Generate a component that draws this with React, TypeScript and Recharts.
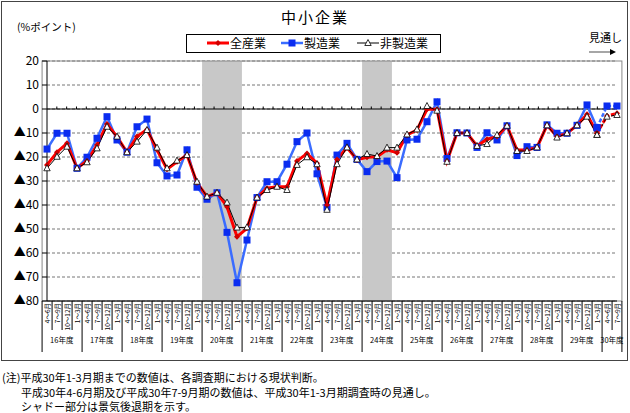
import { LineChart, Line, XAxis, YAxis, CartesianGrid, ReferenceArea, ReferenceLine } from "recharts";

const FONT = '"Noto Sans CJK JP", "Noto Sans", sans-serif';

const YEARS = ["16年度", "17年度", "18年度", "19年度", "20年度", "21年度", "22年度", "23年度", "24年度", "25年度", "26年度", "27年度", "28年度", "29年度", "30年度"];
const QUARTERS = ["4～6月", "7～9月", "10～12月", "1～3月"];
const LAST_YEAR_QUARTERS = 2;
// last quarter that is an actual reading; later points are the outlook (見通し)
const LAST_ACTUAL = 55;

// 全産業
const ZEN = [
	-23.3, -18, -14.3, -24.7, -21.7, -15, -6.3, -11.5, -18, -11.5, -8.5, -17,
	-25.1, -22, -19.2, -30.7, -36.5, -34.9, -40.7, -53.2, -49.7, -36.9, -33, -32.4,
	-32.4, -21.7, -18.5, -22.6, -40, -21, -16.1, -21.2, -20.1, -19.9, -17, -18.2,
	-10.8, -8.75, -0.1, -0.1, -21.7, -10, -10, -15.4, -12.6, -11.5, -7, -17.1,
	-17.1, -16, -6.8, -11.5, -10.1, -6.8, -2.2, -10.1, -2.9, -1.8,
];
// 製造業
const SEI = [
	-16.7, -10.1, -10.1, -24.7, -20.1, -12.2, -3.2, -12.9, -18, -7.4, -4.2, -22.4,
	-27.9, -27.5, -17, -32.6, -37.6, -34.9, -51.4, -72.4, -54.6, -36.9, -30.3, -30.3,
	-23, -13.6, -10, -27, -41, -19.2, -14.3, -21, -26.1, -21.9, -21.7, -28.6,
	-12.9, -12.6, -5.3, 3, -20.6, -9.9, -10, -16, -9.9, -12.9, -7, -19.4,
	-15.7, -16, -6.6, -10.1, -10.1, -6.8, 1.7, -7.8, 1.25, 1.25,
];
// 非製造業
const HI = [
	-24.7, -19.9, -15.7, -24.7, -22.2, -16.4, -7.4, -11.5, -18, -13.6, -8.75, -16.1,
	-24.7, -21.5, -19.2, -30.3, -36.5, -34.9, -39, -49.4, -49.3, -36.9, -33.75, -32.4,
	-33.75, -23.3, -20.1, -23, -42, -23, -16, -21, -18.75, -19.6, -16.1, -16.1,
	-10.6, -8.5, 1.25, -0.7, -22, -10, -10, -15.4, -14.6, -10.8, -7, -17.5,
	-17.5, -16, -6.8, -11.9, -10.1, -6.8, -3.2, -10.8, -3.2, -2.5,
];

const Y_TICKS = [20, 10, 0, -10, -20, -30, -40, -50, -60, -70, -80];
// shaded recession periods: [from, to]
const RECESSIONS = [
	["20年度 4～6月", "20年度 1～3月"],
	["24年度 4～6月", "24年度 10～12月"],
];

const CATS = YEARS.flatMap((year, yi) =>
	QUARTERS.slice(0, yi === YEARS.length - 1 ? LAST_YEAR_QUARTERS : 4).map((q, qi) => ({
		year,
		q,
		qi,
		n: yi === YEARS.length - 1 ? LAST_YEAR_QUARTERS : 4,
	})),
);

const data = CATS.map((c, i) => ({
	key: `${c.year} ${c.q}`,
	zen: i <= LAST_ACTUAL ? ZEN[i] : null,
	sei: i <= LAST_ACTUAL ? SEI[i] : null,
	hi: i <= LAST_ACTUAL ? HI[i] : null,
	zenF: i >= LAST_ACTUAL ? ZEN[i] : null,
	seiF: i >= LAST_ACTUAL ? SEI[i] : null,
	hiF: i >= LAST_ACTUAL ? HI[i] : null,
}));

const W = 630;
const H = 360;
const MARGIN = { top: 61, right: 13, bottom: 0, left: 0 };
const Y_W = 47;
const X_H = 59;
const STEP = (W - MARGIN.left - MARGIN.right - Y_W) / CATS.length;

const RED = "#ff0000";
const BLUE = "#3a6cff";

const fmtY = (v: number) => (v < 0 ? `▲${-v}` : `${v}`);

function Diamond(p: any) {
	const { cx, cy } = p;
	if (cy == null || cx == null) return <g key={p.key} />;
	return <polygon key={p.key} points={`${cx},${cy - 3} ${cx + 3},${cy} ${cx},${cy + 3} ${cx - 3},${cy}`} fill="#d00000" />;
}

function Square(p: any) {
	const { cx, cy } = p;
	if (cy == null || cx == null) return <g key={p.key} />;
	return <rect key={p.key} x={cx - 3.5} y={cy - 3.5} width={7} height={7} fill="#0a2cf0" />;
}

function Triangle(p: any) {
	const { cx, cy } = p;
	if (cy == null || cx == null) return <g key={p.key} />;
	return <polygon key={p.key} points={`${cx},${cy - 3.5} ${cx + 3.2},${cy + 2.5} ${cx - 3.2},${cy + 2.5}`} fill="#fff" stroke="#000" strokeWidth={0.8} />;
}

// ReferenceArea on a category axis spans point to point; widen it to whole bands
function BandRect(fill: string, stroke: string) {
	return (p: any) => {
		if (p.x == null) return <g />;
		return <rect x={p.x - STEP / 2} y={p.y} width={p.width + STEP} height={p.height} fill={fill} stroke={stroke} />;
	};
}

function QuarterTick(p: any) {
	const { x, y } = p;
	const i = p.payload?.index ?? p.index;
	const c = CATS[i];
	if (!c) return null;
	const left = x - STEP / 2;
	const last = i === CATS.length - 1;
	return (
		<g>
			<line x1={left} y1={y} x2={left} y2={y + (c.qi === 0 ? 51 : 29)} stroke="#000" strokeWidth={1} />
			{last && <line x1={x + STEP / 2} y1={y} x2={x + STEP / 2} y2={y + 51} stroke="#000" strokeWidth={1} />}
			<text
				x={x}
				y={y + 2}
				transform={`rotate(-90 ${x} ${y + 2})`}
				textAnchor="end"
				dominantBaseline="central"
				fontSize={6.5}
				fontFamily={FONT}
				fill="#000"
			>
				{c.q}
			</text>
			{c.qi === 0 && (
				<text x={left + (c.n * STEP) / 2} y={y + 42} textAnchor="middle" fontSize={7.5} fontFamily={FONT} fill="#000">
					{c.year}
				</text>
			)}
		</g>
	);
}

function ZeroLine(p: any) {
	const { x1, x2, y1 } = p;
	if (x1 == null) return <g />;
	const step = (x2 - x1) / CATS.length;
	const ticks = CATS.slice(1).map((_, k) => x1 + (k + 1) * step);
	return (
		<g>
			<line x1={x1} y1={y1} x2={x2} y2={y1} stroke="#000" strokeWidth={1} />
			{ticks.map((tx, k) => (
				<line key={k} x1={tx} y1={y1} x2={tx} y2={y1 - 2.5} stroke="#000" strokeWidth={1} />
			))}
		</g>
	);
}

function LegendIcon({ kind }: { kind: "zen" | "sei" | "hi" }) {
	return (
		<svg width={22} height={10} style={{ display: "block" }}>
			{kind === "zen" && (
				<>
					<line x1={0} y1={5} x2={22} y2={5} stroke={RED} strokeWidth={3} />
					<Diamond cx={11} cy={5} />
				</>
			)}
			{kind === "sei" && (
				<>
					<line x1={0} y1={5} x2={22} y2={5} stroke={BLUE} strokeWidth={2.5} />
					<Square cx={11} cy={5} />
				</>
			)}
			{kind === "hi" && (
				<>
					<line x1={0} y1={5} x2={22} y2={5} stroke="#000" strokeWidth={1} />
					<Triangle cx={11} cy={5} />
				</>
			)}
		</svg>
	);
}

const LEGEND: { kind: "zen" | "sei" | "hi"; label: string; left: number }[] = [
	{ kind: "zen", label: "全産業", left: 207 },
	{ kind: "sei", label: "製造業", left: 281 },
	{ kind: "hi", label: "非製造業", left: 357 },
];

export default function App() {
	return (
		<div style={{ position: "absolute", left: 0, top: 0, width: W, height: 413, background: "#fff", fontFamily: FONT, color: "#000" }}>
			<div style={{ position: "absolute", left: 1, top: 1, width: 625, height: 358, border: "1px solid #444" }} />
			<div style={{ position: "absolute", left: 0, top: 6, width: W, textAlign: "center", fontSize: 15, letterSpacing: 2 }}>中小企業</div>
			<div style={{ position: "absolute", left: 17, top: 19, fontSize: 10.5 }}>(%ポイント)</div>
			<div style={{ position: "absolute", left: 186, top: 34, width: 253, height: 17, border: "1px solid #000" }} />
			{LEGEND.map((l) => (
				<div key={l.kind} style={{ position: "absolute", left: l.left, top: 36, display: "flex", alignItems: "center", fontSize: 12, lineHeight: "14px" }}>
					<LegendIcon kind={l.kind} />
					<span style={{ marginLeft: 1 }}>{l.label}</span>
				</div>
			))}
			<div style={{ position: "absolute", left: 589, top: 29, fontSize: 11 }}>見通し</div>
			<svg style={{ position: "absolute", left: 588, top: 48 }} width={30} height={8}>
				<line x1={1} y1={4} x2={23} y2={4} stroke="#888" strokeWidth={1.5} />
				<polygon points="22,1 28,4 22,7" fill="#000" />
			</svg>
			<div style={{ position: "absolute", left: 0, top: 0 }}>
				<LineChart width={W} height={H} data={data} margin={MARGIN}>
					<CartesianGrid horizontal vertical={false} stroke="#777" strokeDasharray="3 2" />
					{RECESSIONS.map(([a, b]) => (
						<ReferenceArea key={a} x1={a} x2={b} y1={-80} y2={20} shape={BandRect("#c8c8c8", "none")} />
					))}
					<ReferenceArea x1={data[0].key} x2={data[data.length - 1].key} y1={-80} y2={20} shape={BandRect("none", "#888")} />
					<ReferenceLine y={0} shape={ZeroLine} />
					<XAxis
						dataKey="key"
						interval={0}
						height={X_H}
						tickLine={false}
						tickSize={0}
						tickMargin={0}
						axisLine={{ stroke: "#000" }}
						tick={QuarterTick}
					/>
					<YAxis
						type="number"
						domain={[-80, 20]}
						ticks={Y_TICKS}
						interval={0}
						width={Y_W}
						tickSize={5}
						tickMargin={3}
						allowDataOverflow
						axisLine={{ stroke: "#000" }}
						tickLine={{ stroke: "#000" }}
						tick={{ fill: "#000", fontSize: 12, fontFamily: FONT }}
						tickFormatter={fmtY}
					/>
					<Line dataKey="sei" stroke={BLUE} strokeWidth={2.5} dot={Square} activeDot={false} isAnimationActive={false} />
					<Line dataKey="seiF" stroke={BLUE} strokeWidth={2.5} strokeDasharray="4 2" dot={Square} activeDot={false} isAnimationActive={false} />
					<Line dataKey="zen" stroke={RED} strokeWidth={3} dot={Diamond} activeDot={false} isAnimationActive={false} />
					<Line dataKey="zenF" stroke={RED} strokeWidth={3} strokeDasharray="4 2" dot={Diamond} activeDot={false} isAnimationActive={false} />
					<Line dataKey="hi" stroke="#000" strokeWidth={1} dot={Triangle} activeDot={false} isAnimationActive={false} />
					<Line dataKey="hiF" stroke="#000" strokeWidth={1} strokeDasharray="3 2" dot={Triangle} activeDot={false} isAnimationActive={false} />
				</LineChart>
			</div>
			<div style={{ position: "absolute", left: 2, top: 370, fontSize: 11, lineHeight: "14.5px" }}>
				<div>(注)平成30年1-3月期までの数値は、各調査期における現状判断。</div>
				<div style={{ paddingLeft: 19 }}>平成30年4-6月期及び平成30年7-9月期の数値は、平成30年1-3月期調査時の見通し。</div>
				<div style={{ paddingLeft: 19 }}>シャドー部分は景気後退期を示す。</div>
			</div>
		</div>
	);
}
